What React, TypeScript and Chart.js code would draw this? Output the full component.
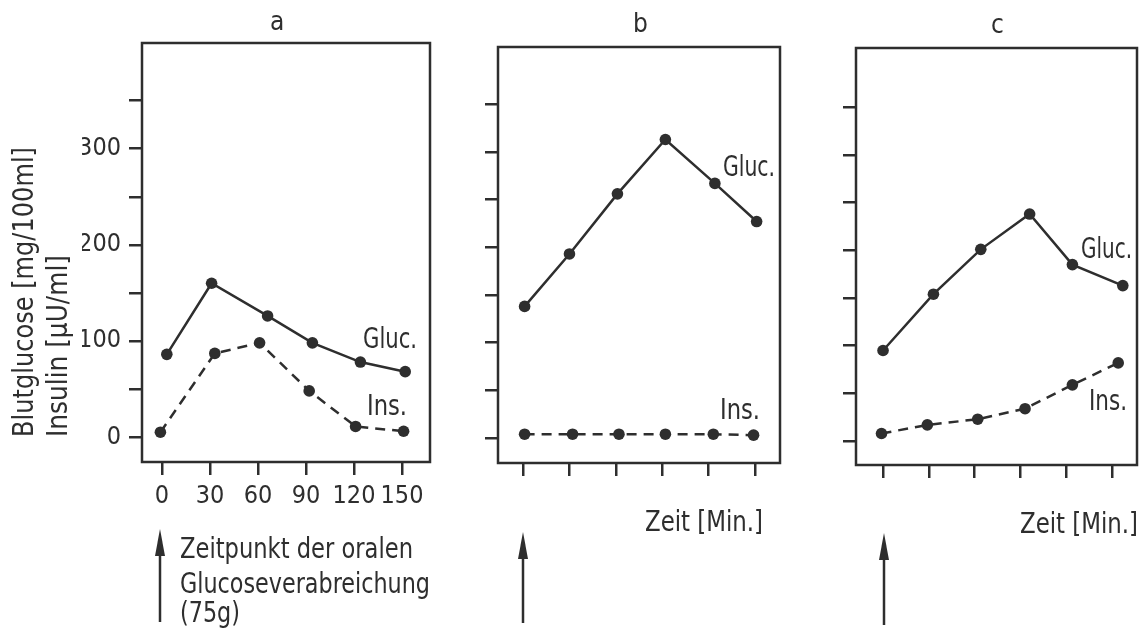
import React, { useEffect, useRef } from 'react';
import { Chart, registerables } from 'chart.js';

Chart.register(...registerables);

// ---------- data ----------
const TIME_TICKS = [0, 30, 60, 90, 120, 150];
const Y_TICKS = [0, 50, 100, 150, 200, 250, 300, 350];
const Y_LABELED = [0, 100, 200, 300];

// panel a
const glucTimeA = [3, 31, 66, 94, 124, 152];
const glucA = [86, 160, 126, 98, 78, 68];
const insTimeA = [-1, 33, 61, 92, 121, 151];
const insA = [5, 87, 98, 48, 11, 6];
// panel b
const glucTimeB = [1, 30, 61, 92, 124, 151];
const glucB = [138, 193, 256, 313, 267, 227];
const insTimeB = [1, 32, 62, 92, 123, 149];
const insB = [4, 4, 4, 4, 4, 3];
// panel c
const glucTimeC = [0, 33, 64, 96, 124, 157];
const glucC = [95, 154, 201, 238, 185, 163];
const insTimeC = [-1, 29, 62, 93, 124, 154];
const insC = [8, 17, 23, 34, 59, 82];

const PANEL_LETTERS = ['a', 'b', 'c'];
const GLUC_LABEL = 'Gluc.';
const INS_LABEL = 'Ins.';
const TIME_LABEL = 'Zeit [Min.]';
const NOTE_LINES = ['Zeitpunkt der oralen', 'Glucoseverabreichung', '(75g)'];
const Y_TITLE = ['Blutglucose [mg/100ml]', 'Insulin [µU/ml]'];

// ---------- style ----------
const INK = '#2e2e2e';
const FONT = "'DejaVu Sans Condensed', 'DejaVu Sans', sans-serif";
const LW = 2.5;

type TextItem = { s: string; x: number; y: number; size?: number; w?: number; rot?: boolean };
type ArrowItem = { x: number; top: number; bottom: number };

type PanelCfg = {
  left: number;
  w: number;
  area: { l: number; r: number; t: number; b: number };
  xr: [number, number];
  yr: [number, number];
  labels: boolean;
  yAxisW: number;
  series: { t: number[]; v: number[]; dash: boolean }[];
  texts: TextItem[];
  arrows: ArrowItem[];
};

const PANELS: PanelCfg[] = [
  {
    left: 0,
    w: 460,
    area: { l: 142, r: 430, t: 43, b: 462 },
    xr: [-12.5, 167.5],
    yr: [-26, 410],
    labels: true,
    yAxisW: 60,
    series: [
      { t: glucTimeA, v: glucA, dash: false },
      { t: insTimeA, v: insA, dash: true },
    ],
    texts: [
      { s: PANEL_LETTERS[0], x: 270, y: 30, size: 26 },
      { s: GLUC_LABEL, x: 363, y: 348, w: 54 },
      { s: INS_LABEL, x: 367, y: 415, w: 40 },
      { s: NOTE_LINES[0], x: 180, y: 558, w: 233 },
      { s: NOTE_LINES[1], x: 180, y: 593, w: 250 },
      { s: NOTE_LINES[2], x: 180, y: 622, w: 60 },
      { s: Y_TITLE[0], x: 33, y: 437, w: 290, rot: true },
      { s: Y_TITLE[1], x: 67, y: 437, w: 182, rot: true },
    ],
    arrows: [{ x: 160, top: 529, bottom: 622 }],
  },
  {
    left: 460,
    w: 360,
    area: { l: 498, r: 780, t: 47, b: 463 },
    xr: [-16.2, 166.1],
    yr: [-26.2, 410],
    labels: false,
    yAxisW: 20,
    series: [
      { t: glucTimeB, v: glucB, dash: false },
      { t: insTimeB, v: insB, dash: true },
    ],
    texts: [
      { s: PANEL_LETTERS[1], x: 633, y: 32, size: 26 },
      { s: GLUC_LABEL, x: 723, y: 176, w: 52 },
      { s: INS_LABEL, x: 720, y: 419, w: 40 },
      { s: TIME_LABEL, x: 645, y: 531, w: 118 },
    ],
    arrows: [{ x: 523, top: 532, bottom: 623 }],
  },
  {
    left: 820,
    w: 319,
    area: { l: 856, r: 1137, t: 48, b: 465 },
    xr: [-17.7, 166.3],
    yr: [-25, 412],
    labels: false,
    yAxisW: 20,
    series: [
      { t: glucTimeC, v: glucC, dash: false },
      { t: insTimeC, v: insC, dash: true },
    ],
    texts: [
      { s: PANEL_LETTERS[2], x: 991, y: 33, size: 26 },
      { s: GLUC_LABEL, x: 1081, y: 258, w: 51 },
      { s: INS_LABEL, x: 1089, y: 410, w: 38 },
      { s: TIME_LABEL, x: 1020, y: 533, w: 118 },
    ],
    arrows: [{ x: 884, top: 533, bottom: 625 }],
  },
];

function drawText(ctx: CanvasRenderingContext2D, t: TextItem, offX: number) {
  ctx.save();
  ctx.font = `${t.size ?? 28}px ${FONT}`;
  ctx.fillStyle = INK;
  ctx.textAlign = 'left';
  ctx.textBaseline = 'alphabetic';
  const m = ctx.measureText(t.s).width;
  ctx.translate(t.x - offX, t.y);
  if (t.rot) ctx.rotate(-Math.PI / 2);
  if (t.w) ctx.scale(t.w / m, 1);
  ctx.fillText(t.s, 0, 0);
  ctx.restore();
}

function drawArrow(ctx: CanvasRenderingContext2D, a: ArrowItem, offX: number) {
  const x = a.x - offX;
  ctx.save();
  ctx.strokeStyle = INK;
  ctx.fillStyle = INK;
  ctx.lineWidth = LW;
  ctx.beginPath();
  ctx.moveTo(x, a.top + 20);
  ctx.lineTo(x, a.bottom);
  ctx.stroke();
  ctx.beginPath();
  ctx.moveTo(x, a.top);
  ctx.lineTo(x - 5, a.top + 27);
  ctx.lineTo(x + 5, a.top + 27);
  ctx.closePath();
  ctx.fill();
  ctx.restore();
}

function buildConfig(p: PanelCfg): any {
  const H = 50;
  const decor = {
    id: 'decor',
    afterDraw(chart: any) {
      const ctx: CanvasRenderingContext2D = chart.ctx;
      const a = chart.chartArea;
      ctx.save();
      ctx.strokeStyle = INK;
      ctx.lineWidth = LW;
      ctx.strokeRect(a.left, a.top, a.right - a.left, a.bottom - a.top);
      ctx.restore();
      p.texts.forEach((t) => drawText(ctx, t, p.left));
      p.arrows.forEach((ar) => drawArrow(ctx, ar, p.left));
    },
  };
  const tickFont = { family: FONT, size: 25 };
  const grid = {
    drawOnChartArea: false,
    drawTicks: true,
    tickLength: 13,
    tickWidth: LW,
    tickColor: INK,
    color: INK,
    lineWidth: LW,
  };
  return {
    type: 'line',
    data: {
      datasets: p.series.map((s) => ({
        data: s.t.map((x, i) => ({ x, y: s.v[i] })),
        borderColor: INK,
        backgroundColor: INK,
        borderWidth: LW,
        borderDash: s.dash ? [10, 7] : [],
        pointRadius: 5.8,
        pointBackgroundColor: INK,
        pointBorderWidth: 0,
        tension: 0,
        fill: false,
        clip: false,
      })),
    },
    options: {
      animation: false,
      responsive: false,
      devicePixelRatio: 1,
      events: [],
      layout: {
        autoPadding: false,
        padding: {
          left: p.area.l - p.left - p.yAxisW,
          right: p.left + p.w - p.area.r,
          top: p.area.t,
          bottom: 630 - p.area.b - H,
        },
      },
      plugins: { legend: { display: false }, tooltip: { enabled: false }, title: { display: false } },
      scales: {
        x: {
          type: 'linear',
          min: p.xr[0],
          max: p.xr[1],
          afterBuildTicks: (s: any) => {
            s.ticks = TIME_TICKS.map((v) => ({ value: v }));
          },
          afterFit: (s: any) => {
            s.height = H;
          },
          ticks: {
            autoSkip: false,
            maxRotation: 0,
            minRotation: 0,
            padding: 6,
            color: INK,
            font: tickFont,
            callback: (v: number) => (p.labels ? String(v) : ''),
          },
          grid,
          border: { display: false },
        },
        y: {
          type: 'linear',
          min: p.yr[0],
          max: p.yr[1],
          afterBuildTicks: (s: any) => {
            s.ticks = Y_TICKS.map((v) => ({ value: v }));
          },
          afterFit: (s: any) => {
            s.width = p.yAxisW;
          },
          ticks: {
            autoSkip: false,
            padding: 8,
            color: INK,
            font: tickFont,
            callback: (v: number) => (p.labels && Y_LABELED.includes(v) ? String(v) : ''),
          },
          grid,
          border: { display: false },
        },
      },
    },
    plugins: [decor],
  };
}

function Panel({ cfg }: { cfg: PanelCfg }) {
  const ref = useRef<HTMLCanvasElement | null>(null);
  useEffect(() => {
    if (!ref.current) return;
    const chart = new Chart(ref.current, buildConfig(cfg));
    return () => chart.destroy();
  }, [cfg]);
  return (
    <canvas
      ref={ref}
      width={cfg.w}
      height={630}
      style={{ position: 'absolute', left: cfg.left, top: 0, width: cfg.w, height: 630 }}
    />
  );
}

export default function App() {
  return (
    <div style={{ position: 'fixed', left: 0, top: 0, width: 1139, height: 630, background: '#fff', overflow: 'hidden' }}>
      {PANELS.map((p, i) => (
        <Panel key={i} cfg={p} />
      ))}
    </div>
  );
}
